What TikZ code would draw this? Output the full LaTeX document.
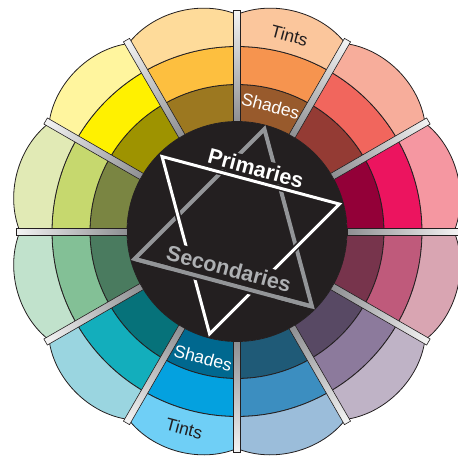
\documentclass[tikz,border=0pt]{standalone}
\usepackage{fontspec}
\newfontfamily\wheelfont{Liberation Sans}
\usepackage{tikz}
\usetikzlibrary{calc}
\usepackage{xcolor}

\definecolor{ink}{HTML}{231F20}
\definecolor{triGray}{HTML}{939598}
\definecolor{secText}{HTML}{AEB0B3}
\definecolor{sepIn}{HTML}{8E8F92}
\definecolor{sepOut}{HTML}{F4F4F4}

\definecolor{shadeRM}{HTML}{930038}\definecolor{pureRM}{HTML}{EC145F}\definecolor{tintRM}{HTML}{F597A1}
\definecolor{shadeRE}{HTML}{943B34}\definecolor{pureRE}{HTML}{F1665D}\definecolor{tintRE}{HTML}{F7AD9B}
\definecolor{shadeOR}{HTML}{985A2C}\definecolor{pureOR}{HTML}{F6944F}\definecolor{tintOR}{HTML}{FBC69C}
\definecolor{shadeYO}{HTML}{9C7820}\definecolor{pureYO}{HTML}{FDBF3F}\definecolor{tintYO}{HTML}{FEDB9A}
\definecolor{shadeYE}{HTML}{9E9300}\definecolor{pureYE}{HTML}{FFF100}\definecolor{tintYE}{HTML}{FFF59E}
\definecolor{shadeYG}{HTML}{7A8542}\definecolor{pureYG}{HTML}{C6D86E}\definecolor{tintYG}{HTML}{E1EAB5}
\definecolor{shadeGR}{HTML}{4A7B5F}\definecolor{pureGR}{HTML}{83C096}\definecolor{tintGR}{HTML}{C1E2CC}
\definecolor{shadeTE}{HTML}{06727A}\definecolor{pureTE}{HTML}{13AEBC}\definecolor{tintTE}{HTML}{9AD5E0}
\definecolor{shadeBL}{HTML}{00688F}\definecolor{pureBL}{HTML}{04A1DF}\definecolor{tintBL}{HTML}{6FCFF6}
\definecolor{shadeBV}{HTML}{1F5A77}\definecolor{pureBV}{HTML}{3C8EC0}\definecolor{tintBV}{HTML}{9BBDDA}
\definecolor{shadeVI}{HTML}{584964}\definecolor{pureVI}{HTML}{8C7A9C}\definecolor{tintVI}{HTML}{BFB3C6}
\definecolor{shadeRV}{HTML}{77344C}\definecolor{pureRV}{HTML}{BF5A7B}\definecolor{tintRV}{HTML}{D9A5B2}

\tikzset{
  ring/.style={draw=ink, line width=0.8pt},
  sepbar/.style={left color=sepIn, right color=sepOut, draw=ink, line width=0.6pt},
  secline/.style={draw=triGray, line width=4pt, line join=miter},
  priline/.style={draw=ink, line width=1.5pt, double=white, double distance=3pt, line join=miter},
  bigword/.style={font=\wheelfont\bfseries\fontsize{21.5}{23}\selectfont, fill=ink},
  ringword/.style={font=\wheelfont\fontsize{17.5}{19}\selectfont, inner sep=0pt, rotate=-15}
}

\begin{document}
\begin{tikzpicture}[x=1pt, y=1pt]
  \useasboundingbox (-237,-224.5) rectangle (221,231.5);

  % three rings, twelve hues
  \foreach \a/\hname in {0/RM, 30/RE, 60/OR, 90/YO, 120/YE, 150/YG,
                         180/GR, 210/TE, 240/BL, 270/BV, 300/VI, 330/RV} {
    \filldraw[ring, fill=shade\hname] (\a:110) arc (\a:\a+30:110) -- (\a+30:147) arc (\a+30:\a:147) -- cycle;
    \filldraw[ring, fill=pure\hname] (\a:147) arc (\a:\a+30:147) -- (\a+30:185) arc (\a+30:\a:185) -- cycle;
    \filldraw[ring, fill=tint\hname] (\a:185) arc (\a:\a+30:185) -- (\a+30:217)
      .. controls (\a+21:235) and (\a+9:235) .. (\a:217) -- cycle;
  }

  \fill[ink] (0,0) circle (110);

  % separators
  \foreach \a in {0,30,...,330} {
    \begin{scope}[transform canvas={rotate=\a}]
      \shade[sepbar] (110,-3.5) rectangle (221,3.5);
    \end{scope}
  }

  \coordinate (Y) at (135:106);
  \coordinate (M) at (15:106);
  \coordinate (C) at (255:106);
  \coordinate (O) at (75:106);
  \coordinate (V) at (315:106);
  \coordinate (G) at (195:106);

  \begin{scope}
    \clip (0,0) circle (110);
    \draw[secline] (G) -- (O) -- (V) -- cycle;
    \draw[priline] (Y) -- (M) -- (C) -- cycle;
    \draw[ink, line width=9pt] ($(G)!0.2!(V)$) -- ($(G)!0.8!(V)$);
    \draw[secline] (G) -- (V);
  \end{scope}

  \path (Y) -- (M) node[pos=0.51, above=3pt, sloped, bigword, inner sep=2pt, text=white] (primLbl) {Primaries};
  \path (G) -- (V) node[pos=0.51, above=4pt, sloped, bigword, inner sep=3pt, text=secText] (secLbl) {Secondaries};

  \node[ringword, text=white] (shadeTop) at (75:130) {Shades};
  \node[ringword, text=ink] (tintTop) at (75:203) {Tints};
  \node[ringword, text=white] (shadeBot) at (255:131) {Shades};
  \node[ringword, text=ink] (tintBot) at (255:204) {Tints};
\end{tikzpicture}
\end{document}
